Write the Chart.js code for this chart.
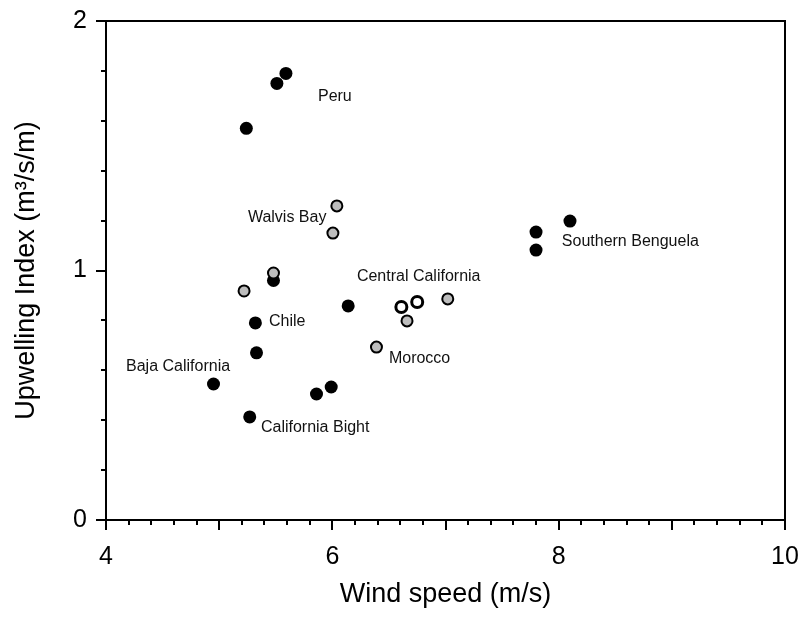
<!DOCTYPE html>
<html>
<head>
<meta charset="utf-8">
<script src="https://cdn.jsdelivr.net/npm/chart.js@4.4.1/dist/chart.umd.min.js"></script>
<style>
  html, body { margin: 0; padding: 0; background: #fff; }
  canvas { display: block; }
</style>
</head>
<body>
<canvas id="upwelling" width="804" height="618"></canvas>
<script>
// Wind speed (m/s) vs upwelling index (m3/s/m)
const blackX = [5.59, 5.51, 5.24, 5.48, 5.32, 5.33, 4.95, 5.27, 5.86, 5.99, 6.14, 7.80, 8.10, 7.80];
const blackY = [1.79, 1.75, 1.57, 0.96, 0.79, 0.67, 0.545, 0.413, 0.505, 0.533, 0.858, 1.154, 1.198, 1.082];

const greyX = [6.04, 6.005, 5.48, 5.22, 7.02, 6.66, 6.39];
const greyY = [1.259, 1.15, 0.99, 0.918, 0.886, 0.798, 0.693];

const openX = [6.61, 6.75];
const openY = [0.854, 0.874];

// region labels (left edge, vertical centre)
const regionNames = ['Peru', 'Walvis Bay', 'Central California', 'Southern Benguela',
                     'Chile', 'Morocco', 'Baja California', 'California Bight'];
const regionX = [5.873, 5.254, 6.217, 8.028, 5.44, 6.50, 4.177, 5.369];
const regionY = [1.699, 1.214, 0.974, 1.114, 0.794, 0.645, 0.613, 0.369];

const xTicks = [4, 6, 8, 10];
const yTicks = [0, 1, 2];

const FONT = '"Liberation Sans", Arial, Helvetica, sans-serif';

const toPoints = (xs, ys) => xs.map((x, i) => ({ x: x, y: ys[i] }));

// frame, minor/major tick marks and the region labels
const framePlugin = {
    id: 'frame',
    afterDraw(chart) {
        const { ctx, chartArea: a, scales: { x, y } } = chart;
        ctx.save();
        ctx.strokeStyle = '#000';
        ctx.lineWidth = 2;
        ctx.strokeRect(a.left, a.top, a.right - a.left, a.bottom - a.top);

        ctx.beginPath();
        for (let i = 0; i <= 30; i++) {
            const v = x.min + i * 0.2;
            const px = Math.round(x.getPixelForValue(v));
            const len = i % 5 === 0 ? 10 : 5;
            ctx.moveTo(px, a.bottom);
            ctx.lineTo(px, a.bottom + len);
        }
        for (let i = 0; i <= 10; i++) {
            const v = y.min + i * 0.2;
            const py = Math.round(y.getPixelForValue(v));
            const len = i % 5 === 0 ? 10 : 5;
            ctx.moveTo(a.left, py);
            ctx.lineTo(a.left - len, py);
        }
        ctx.stroke();

        ctx.fillStyle = '#111';
        ctx.font = '16px ' + FONT;
        ctx.textAlign = 'left';
        ctx.textBaseline = 'middle';
        regionNames.forEach((name, i) => {
            ctx.fillText(name, x.getPixelForValue(regionX[i]), y.getPixelForValue(regionY[i]));
        });
        ctx.restore();
    }
};

new Chart(document.getElementById('upwelling'), {
    type: 'scatter',
    data: {
        datasets: [
            {
                label: 'grey',
                data: toPoints(greyX, greyY),
                backgroundColor: '#bdbdbd',
                borderColor: '#000',
                borderWidth: 2,
                pointRadius: 5.5,
                order: 1
            },
            {
                label: 'open',
                data: toPoints(openX, openY),
                backgroundColor: '#fff',
                borderColor: '#000',
                borderWidth: 3,
                pointRadius: 5.5,
                order: 2
            },
            {
                label: 'black',
                data: toPoints(blackX, blackY),
                backgroundColor: '#000',
                borderColor: '#000',
                borderWidth: 0,
                pointRadius: 6.5,
                order: 3
            }
        ]
    },
    options: {
        responsive: false,
        animation: false,
        layout: { padding: { top: 21, right: 19, left: 0, bottom: 0 } },
        plugins: {
            legend: { display: false },
            tooltip: { enabled: false }
        },
        elements: { point: { hoverRadius: 6 } },
        scales: {
            x: {
                type: 'linear',
                min: 4,
                max: 10,
                afterBuildTicks: s => { s.ticks = xTicks.map(v => ({ value: v })); },
                ticks: { padding: 22, color: '#000', font: { size: 25, family: FONT } },
                grid: { display: false, drawTicks: false },
                border: { display: false },
                title: {
                    display: true,
                    text: 'Wind speed (m/s)',
                    color: '#000',
                    font: { size: 27, family: FONT },
                    padding: { top: 0, bottom: 7 }
                },
                afterFit: s => {
                    s.height = 98;
                    s.paddingLeft = 0;
                    s.paddingRight = 0;
                }
            },
            y: {
                type: 'linear',
                min: 0,
                max: 2,
                afterBuildTicks: s => { s.ticks = yTicks.map(v => ({ value: v })); },
                ticks: { padding: 19, color: '#000', font: { size: 25, family: FONT } },
                grid: { display: false, drawTicks: false },
                border: { display: false },
                title: {
                    display: true,
                    text: 'Upwelling Index (m³/s/m)',
                    color: '#000',
                    font: { size: 27, family: FONT },
                    padding: { top: 10, bottom: 0 }
                },
                afterFit: s => {
                    s.width = 106;
                    s.paddingTop = 0;
                    s.paddingBottom = 0;
                }
            }
        }
    },
    plugins: [framePlugin]
});
</script>
</body>
</html>
